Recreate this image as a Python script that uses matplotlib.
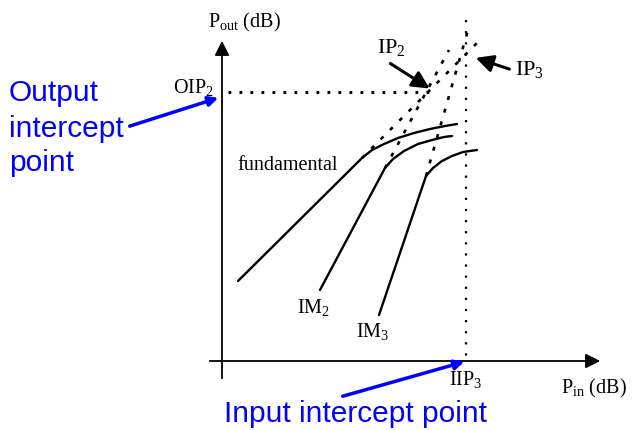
import matplotlib
matplotlib.use('Agg')
import matplotlib.pyplot as plt

plt.rcParams['font.family'] = 'Liberation Serif'
plt.rcParams['mathtext.fontset'] = 'custom'
plt.rcParams['mathtext.rm'] = 'Liberation Serif'
plt.rcParams['mathtext.it'] = 'Liberation Serif:italic'

# Curves (drawing units, y grows downward)
fund_x = [238, 362, 372, 384, 398, 414, 430, 445, 457]
fund_y = [281, 158, 150, 144, 138, 133, 129, 126, 124]
im2_x = [320, 385, 393, 404, 418, 432, 444, 452]
im2_y = [290, 168, 159, 151, 144, 140, 137, 136]
im3_x = [379, 426, 433, 442, 452, 463, 477]
im3_y = [315, 176, 168, 161, 156, 152, 150]

# extrapolated straight-line parts
fund_ext_x = [362, 480]
fund_ext_y = [158, 40]
im2_ext_x = [385, 449]
im2_ext_y = [168, 50]
im3_ext_x = [426, 468]
im3_ext_y = [176, 30]

# intercept points
ip2 = (432, 90)
ip3 = (473, 57)
oip2_y = 92
iip3_x = 466

# axes frame
origin = (222, 361)
y_top = 38
x_right = 603

fig = plt.figure(figsize=(6.32, 4.30), dpi=100)
ax = fig.add_axes([0, 0, 1, 1])
ax.set_xlim(0, 632)
ax.set_ylim(430, 0)
ax.axis('off')

# coordinate axes with arrow heads
ax.plot([origin[0], origin[0]], [378, y_top + 10], color='k', lw=1.3)
ax.plot([210, x_right - 10], [origin[1], origin[1]], color='k', lw=1.3)
ax.annotate('', xy=(origin[0], y_top), xytext=(origin[0], y_top + 16),
            arrowprops=dict(arrowstyle='-|>', color='k', lw=1.3, mutation_scale=22))
ax.annotate('', xy=(x_right, origin[1]), xytext=(x_right - 18, origin[1]),
            arrowprops=dict(arrowstyle='-|>', color='k', lw=1.3, mutation_scale=22))

# dotted guide lines
ax.plot([228, ip2[0]], [oip2_y, oip2_y], color='k', lw=2.2,
        linestyle=(0, (0.9, 2.7)))
ax.plot([iip3_x, iip3_x], [20, origin[1]], color='k', lw=1.6,
        linestyle=(0, (1, 4)))

# curves
for xs, ys in [(fund_x, fund_y), (im2_x, im2_y), (im3_x, im3_y)]:
    ax.plot(xs, ys, color='k', lw=1.7, solid_capstyle='round',
            solid_joinstyle='round')

for xs, ys in [(fund_ext_x, fund_ext_y), (im2_ext_x, im2_ext_y), (im3_ext_x, im3_ext_y)]:
    ax.plot(xs, ys, color='k', lw=1.9, linestyle=(0, (1.5, 3.5)))

# black pointer arrows
ax.annotate('', xy=ip2, xytext=(388, 62),
            arrowprops=dict(arrowstyle='-|>', color='k', lw=2.2, mutation_scale=26))
ax.annotate('', xy=ip3, xytext=(512, 70),
            arrowprops=dict(arrowstyle='-|>', color='k', lw=2.2, mutation_scale=26))

# labels
fs = 14.5
ax.text(208, 22, r'P$_{\rm out}$ (dB)', fontsize=fs, va='center', ha='left')
ax.text(214, 88, r'OIP$_2$', fontsize=fs, va='center', ha='right')
ax.text(377, 48, r'IP$_2$', fontsize=fs + 1.5, va='center', ha='left')
ax.text(515, 70, r'IP$_3$', fontsize=fs + 1.5, va='center', ha='left')
ax.text(237, 165, 'fundamental', fontsize=fs, va='center', ha='left')
ax.text(297, 307, r'IM$_2$', fontsize=fs, va='center', ha='left')
ax.text(356, 331, r'IM$_3$', fontsize=fs, va='center', ha='left')
ax.text(466, 380, r'IIP$_3$', fontsize=fs, va='center', ha='center')
ax.text(561, 388, r'P$_{\rm in}$ (dB)', fontsize=fs, va='center', ha='left')

# blue annotations
blue = '#0000ff'
bfs = 21.5
ax.text(9, 93, 'Output', fontsize=bfs, color=blue, family='Liberation Sans',
        va='center', ha='left')
ax.text(9, 129, 'intercept', fontsize=bfs, color=blue, family='Liberation Sans',
        va='center', ha='left')
ax.text(9, 163, 'point', fontsize=bfs, color=blue, family='Liberation Sans',
        va='center', ha='left')
ax.annotate('', xy=(221, 97), xytext=(127, 127),
            arrowprops=dict(arrowstyle='-|>', color=blue, lw=2.5, mutation_scale=14))
ax.text(224, 414, 'Input intercept point', fontsize=bfs, color=blue,
        family='Liberation Sans', va='center', ha='left')
ax.annotate('', xy=(467, 361), xytext=(340, 397),
            arrowprops=dict(arrowstyle='-|>', color=blue, lw=2.5, mutation_scale=14))

fig.savefig('out.png', dpi=100)
